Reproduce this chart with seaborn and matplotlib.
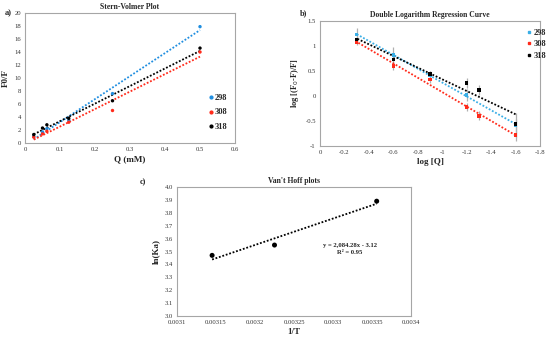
import numpy as np
import pandas as pd
import matplotlib
matplotlib.use("Agg")
import matplotlib.pyplot as plt
import seaborn as sns
from matplotlib.lines import Line2D

sns.set_theme(style="white")
plt.rcParams['font.family'] = ['Liberation Serif', 'DejaVu Serif']

# ---------------- data ----------------
temps = ["298", "308", "318"]
q_mM = [0.025, 0.05, 0.0625, 0.125, 0.25, 0.5]
f0f_298 = [1.0, 1.7, 2.2, 3.5, 7.6, 17.9]
f0f_308 = [0.9, 1.4, 1.8, 3.2, 5.0, 14.0]
f0f_318 = [1.3, 2.3, 2.8, 3.8, 6.5, 14.6]

logq = [-0.3, -0.6, -0.9, -1.2, -1.3, -1.6]
dlog_298 = [1.23, 0.82, 0.41, 0.02, np.nan, -0.58]
dlog_308 = [1.08, 0.60, 0.33, -0.22, -0.40, -0.78]
dlog_318 = [1.13, 0.73, 0.44, 0.26, 0.12, -0.56]
err_298 = [0.12, 0.15, 0.08, 0.12, np.nan, 0.24]
err_308 = [0.06, 0.08, 0.08, 0.08, 0.09, 0.12]
err_318 = [0.06, 0.10, 0.05, 0.10, 0.10, 0.10]

inv_T = [0.003145, 0.003225, 0.003356]
ln_ka = [3.47, 3.55, 3.89]

colors_a = {"298": "#1f8ee0", "308": "#ff2a1a", "318": "#000000"}
colors_b = {"298": "#39aee6", "308": "#ff2a1a", "318": "#000000"}

W, H = 550, 342
fig = plt.figure(figsize=(W / 100, H / 100), dpi=100)

def px_axes(x0, y0, x1, y1):
    return fig.add_axes([x0 / W, 1 - y1 / H, (x1 - x0) / W, (y1 - y0) / H])

spine_col = "#a6a6a6"
tick_fs = 4.8

def style(ax):
    for s in ax.spines.values():
        s.set_color(spine_col)
        s.set_linewidth(0.8)
    ax.tick_params(length=0, labelsize=tick_fs, pad=3, colors="#333333")

# ---------------- panel a ----------------
ax = px_axes(25, 13, 235, 143)
df_a = pd.DataFrame({
    "Q": q_mM * 3,
    "F": f0f_298 + f0f_308 + f0f_318,
    "T": ["298"] * 6 + ["308"] * 6 + ["318"] * 6,
})
for t in temps:
    sub = df_a[df_a["T"] == t]
    sns.regplot(data=sub, x="Q", y="F", ax=ax, scatter=False, ci=None, truncate=True,
                line_kws=dict(color=colors_a[t], ls=(0, (1, 1)), lw=1.3))
sns.scatterplot(data=df_a, x="Q", y="F", hue="T", palette=colors_a, ax=ax, s=6,
                edgecolor="none", legend=False, zorder=3)
ax.set_xlim(0, 0.6)
ax.set_ylim(0, 20)
ax.set_xticks(np.arange(0, 0.61, 0.1))
ax.set_xticklabels(["0", "0.1", "0.2", "0.3", "0.4", "0.5", "0.6"])
ax.set_yticks(range(0, 21, 2))
style(ax)
ax.set_xlabel("Q (mM)", fontsize=6.5, fontweight="bold", labelpad=2)
ax.set_ylabel("F0/F", fontsize=6.5, fontweight="bold", labelpad=3)
ax.set_title("Stern-Volmer Plot", fontsize=5.5, fontweight="bold", pad=3)
fig.text(5 / W, 1 - 13 / H, "a)", fontsize=6, fontweight="bold", va="center")
hands = [Line2D([], [], marker="o", ls="none", ms=2.0, color=colors_a[t]) for t in temps]
ax.legend(hands, temps, loc="center left", bbox_to_anchor=(0.84, 0.235), frameon=False,
          handlelength=0.4, handletextpad=0.3, labelspacing=0.75,
          prop=dict(size=6, weight="bold"))

# ---------------- panel b ----------------
ax = px_axes(320, 21, 540, 146)
df_b = pd.DataFrame({
    "x": logq * 3,
    "y": dlog_298 + dlog_308 + dlog_318,
    "e": err_298 + err_308 + err_318,
    "T": ["298"] * 6 + ["308"] * 6 + ["318"] * 6,
})
for t in temps:
    sub = df_b[df_b["T"] == t].dropna()
    ax.errorbar(sub["x"], sub["y"], yerr=sub["e"], fmt="none", ecolor="#b0b0b0",
                elinewidth=0.9, capsize=0, zorder=1)
for t in temps:
    sub = df_b[df_b["T"] == t].dropna()
    sns.regplot(data=sub, x="x", y="y", ax=ax, scatter=False, ci=None, truncate=True,
                line_kws=dict(color=colors_b[t], ls=(0, (1, 1)), lw=1.3))
sns.scatterplot(data=df_b.dropna(), x="x", y="y", hue="T", palette=colors_b, ax=ax, s=6,
                marker="s", edgecolor="none", legend=False, zorder=3)
ax.set_xlim(0, -1.8)
ax.set_ylim(-1, 1.5)
xt = np.round(np.arange(0, -1.81, -0.2), 1)
ax.set_xticks(xt)
ax.set_xticklabels(["0" if v == 0 else f"{v:g}" for v in xt])
ax.set_yticks([-1, -0.5, 0, 0.5, 1, 1.5])
ax.set_yticklabels(["-1", "-0.5", "0", "0.5", "1", "1.5"])
style(ax)
ax.set_xlabel("log [Q]", fontsize=6.5, fontweight="bold", labelpad=2)
ax.set_ylabel("log [(F$_0$-F)/F]", fontsize=6, fontweight="bold", labelpad=3)
ax.set_title("Double Logarithm Regression Curve", fontsize=5.5, fontweight="bold", pad=3)
fig.text(300 / W, 1 - 13 / H, "b)", fontsize=6, fontweight="bold", va="center")
hands = [Line2D([], [], marker="s", ls="none", ms=1.8, color=colors_b[t]) for t in temps]
ax.legend(hands, temps, loc="upper left", bbox_to_anchor=(0.91, 1.0), frameon=False,
          handlelength=0.4, handletextpad=0.3, labelspacing=0.45,
          prop=dict(size=6, weight="bold"))

# ---------------- panel c ----------------
ax = px_axes(177, 187, 411, 316)
df_c = pd.DataFrame({"x": inv_T, "y": ln_ka})
sns.regplot(data=df_c, x="x", y="y", ax=ax, scatter=False, ci=None, truncate=True,
            line_kws=dict(color="black", ls=(0, (1, 1)), lw=1.3))
sns.scatterplot(data=df_c, x="x", y="y", ax=ax, s=13, color="black", edgecolor="none", zorder=3)
ax.set_xlim(0.0031, 0.0034)
ax.set_ylim(3.0, 4.0)
xt = [0.0031, 0.00315, 0.0032, 0.00325, 0.0033, 0.00335, 0.0034]
ax.set_xticks(xt)
ax.set_xticklabels(["0.0031", "0.00315", "0.0032", "0.00325", "0.0033", "0.00335", "0.0034"])
ax.set_yticks(np.round(np.arange(3.0, 4.01, 0.1), 1))
ax.set_yticklabels([f"{v:.1f}" for v in np.arange(3.0, 4.01, 0.1)])
style(ax)
ax.set_xlabel("1/T", fontsize=6.5, fontweight="bold", labelpad=2)
ax.set_ylabel("ln(Ka)", fontsize=6.5, fontweight="bold", labelpad=3)
ax.set_title("Van't Hoff plots", fontsize=5.5, fontweight="bold", pad=3)
ax.text(0.003322, 3.545, "y = 2,084.28x - 3.12", fontsize=4.8, fontweight="bold",
        ha="center", va="center")
ax.text(0.003322, 3.49, "R² = 0.95", fontsize=4.8, fontweight="bold",
        ha="center", va="center")
fig.text(140 / W, 1 - 182 / H, "c)", fontsize=6, fontweight="bold", va="center")

fig.savefig("out.png", dpi=100)
